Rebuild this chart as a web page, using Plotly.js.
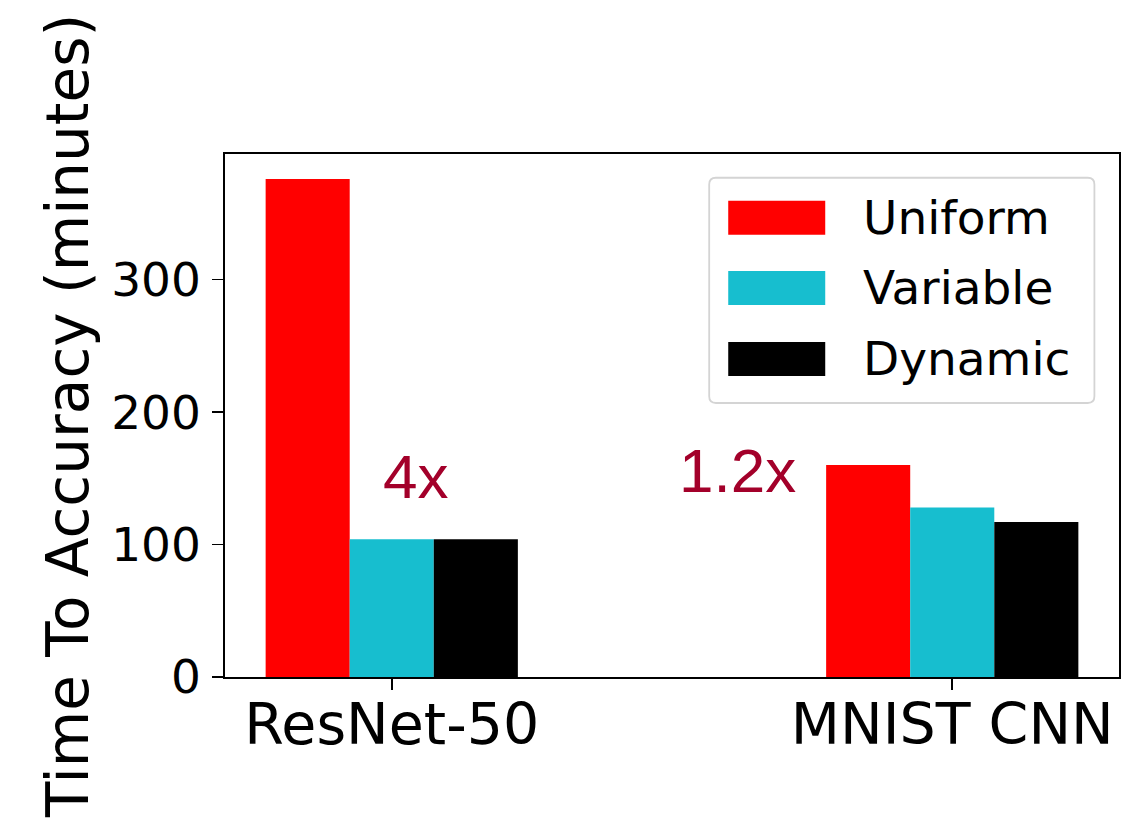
<!DOCTYPE html>
<html>
<head>
<meta charset="utf-8">
<script src="https://cdn.plot.ly/plotly-3.0.1.min.js"></script>
<style>html,body{margin:0;padding:0;background:#fff;}#chart{width:1144px;height:822px;}</style>
</head>
<body>
<div id="chart"></div>
<script>
// ---- data ----
const categories = ["ResNet-50", "MNIST CNN"];
const seriesNames = ["Uniform", "Variable", "Dynamic"];
const uniformValues = [376, 160];
const variableValues = [104, 128];
const dynamicValues = [104, 117];
const seriesColors = ["#ff0000", "#17becf", "#000000"];
const speedupLabels = ["4x", "1.2x"];
const yTickValues = [0, 100, 200, 300];

const seriesValues = [uniformValues, variableValues, dynamicValues];

const traces = seriesNames.map((name, i) => ({
  type: "bar",
  name: name,
  x: categories,
  y: seriesValues[i],
  marker: { color: seriesColors[i], line: { width: 0 } },
  showlegend: false,
  hoverinfo: "x+y+name"
}));

// custom legend (large swatches like the original)
const legendRowsTop = [0.9106, 0.7765, 0.6406];
const swH = 0.0651;
const shapes = [];
(function () {
  const x0 = 0.5416, x1 = 0.9725, y0 = 0.5239, y1 = 0.9546;
  const rx = 0.0075, ry = 0.0128;
  const p = `M ${x0 + rx} ${y0} L ${x1 - rx} ${y0} Q ${x1} ${y0} ${x1} ${y0 + ry} ` +
    `L ${x1} ${y1 - ry} Q ${x1} ${y1} ${x1 - rx} ${y1} L ${x0 + rx} ${y1} ` +
    `Q ${x0} ${y1} ${x0} ${y1 - ry} L ${x0} ${y0 + ry} Q ${x0} ${y0} ${x0 + rx} ${y0} Z`;
  shapes.push({ type: "path", xref: "paper", yref: "paper", path: p,
    fillcolor: "rgba(255,255,255,0.8)", line: { color: "#d4d4d4", width: 1.8 } });
})();
const annotations = [];
seriesNames.forEach((name, i) => {
  shapes.push({ type: "rect", xref: "paper", yref: "paper",
    x0: 0.5629, x1: 0.6714, y0: legendRowsTop[i] - swH, y1: legendRowsTop[i],
    fillcolor: seriesColors[i], line: { width: 0 } });
  annotations.push({ xref: "paper", yref: "paper", x: 0.7110, y: legendRowsTop[i] - swH / 2,
    xanchor: "left", yanchor: "middle", text: name, showarrow: false,
    font: { family: "DejaVu Sans", size: 47, color: "#000" } });
});
// speedup labels
const speedupPos = [[0.042, 151], [0.617, 156]];
speedupLabels.forEach((t, i) => {
  annotations.push({ xref: "x", yref: "y", x: speedupPos[i][0], y: speedupPos[i][1],
    text: t, showarrow: false, xanchor: "center", yanchor: "middle",
    font: { family: "Liberation Sans, Arial, sans-serif", size: 62, color: "#a3002a" } });
});

const layout = {
  width: 1144, height: 822,
  margin: { l: 225, r: 25.4, t: 154.3, b: 145.3, pad: 0 },
  paper_bgcolor: "#fff", plot_bgcolor: "#fff",
  barmode: "group", bargap: 0.55, bargroupgap: 0,
  font: { family: "DejaVu Sans", color: "#000" },
  xaxis: {
    type: "category", range: [-0.2975, 1.2975],
    showline: true, mirror: true, linecolor: "#000", linewidth: 1.7,
    ticks: "outside", ticklen: 11, tickwidth: 1.7, tickcolor: "#000",
    tickfont: { family: "DejaVu Sans", size: 57, color: "#000" },
    showgrid: false, zeroline: false, automargin: false, ticklabelstandoff: -14
  },
  yaxis: {
    range: [0, 394.8], tickvals: yTickValues, ticktext: yTickValues.map(String),
    showline: true, mirror: true, linecolor: "#000", linewidth: 1.7,
    ticks: "outside", ticklen: 11, tickwidth: 1.7, tickcolor: "#000",
    tickfont: { family: "DejaVu Sans", size: 47, color: "#000" },
    showgrid: false, zeroline: false, automargin: false, ticklabelstandoff: 2,
    title: { text: "Time To Accuracy (minutes)", font: { family: "DejaVu Sans", size: 58, color: "#000" }, standoff: 4 }
  },
  shapes: shapes,
  annotations: annotations,
  showlegend: false
};

Plotly.newPlot("chart", traces, layout, { displayModeBar: false, staticPlot: true });
</script>
</body>
</html>
